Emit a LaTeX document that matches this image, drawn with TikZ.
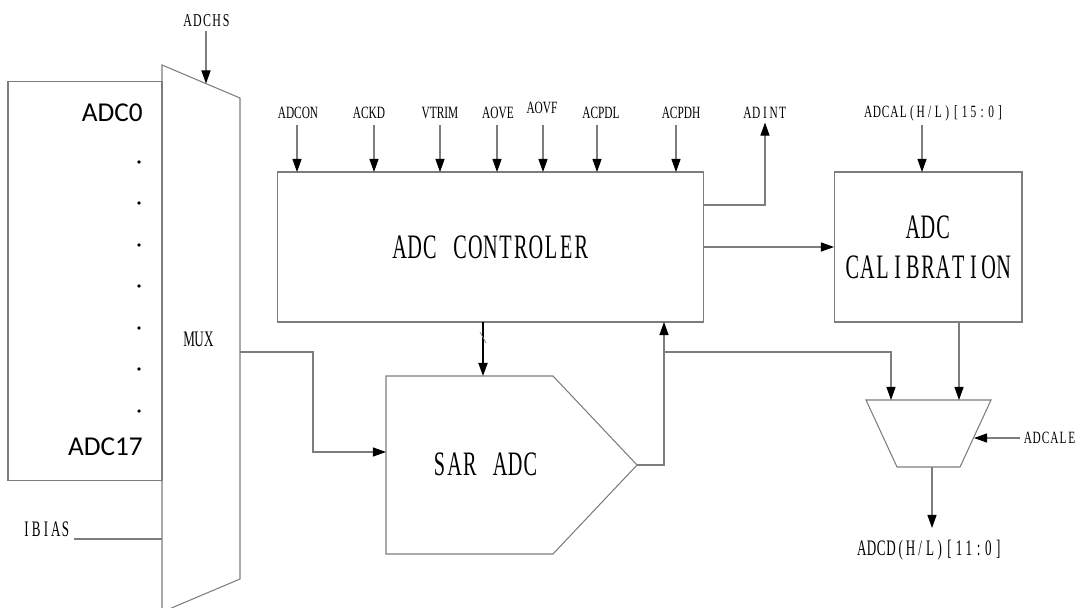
\documentclass[tikz,border=0pt]{standalone}
\usepackage{fontspec}
\setmainfont{Liberation Serif}
\newfontfamily\nserif[FakeStretch=0.66]{Liberation Serif}
\newfontfamily\wserif[FakeStretch=0.59]{Liberation Serif}
\newfontfamily\pinfont{Carlito}
\usetikzlibrary{arrows.meta}
\definecolor{linegray}{RGB}{125,125,125}
% fixed pitch lettering
\newlength\cellw
\makeatletter
\newcommand\cells[1]{\@tfor\ch:=#1\do{\makebox[\cellw]{\ch}}}
\makeatother
\tikzset{
  blk/.style={draw=linegray, line width=0.6pt},
  sig/.style={draw=linegray, line width=0.6pt, -{Triangle[length=7.5pt,width=5.2pt,color=black]}},
  lbl/.style={font=\nserif\fontsize{9.8}{11}\selectfont\setlength\cellw{5pt}, inner sep=2pt},
  midlbl/.style={font=\wserif\fontsize{12.6}{14}\selectfont\setlength\cellw{5.55pt}, inner sep=2pt},
  biglbl/.style={font=\wserif\fontsize{19.5}{22.7}\selectfont\setlength\cellw{8.62pt}, align=center},
  pinlbl/.style={font=\pinfont\fontsize{15.5}{18}\selectfont, anchor=east, inner sep=0pt},
  box/.style={blk, inner sep=0pt, outer sep=0pt}
}
\begin{document}
\begin{tikzpicture}[x=0.02cm, y=-0.02cm]
  \useasboundingbox (0,0) rectangle (1081,608);
  % analog input channels
  \node[box, minimum width=3.08cm, minimum height=8cm] (pins) at (85,281) {};
  \node[pinlbl] (adc0) at (143,113) {ADC0};
  \node[pinlbl] (adc17) at (143,447) {ADC17};
  \foreach \y in {162,203,245,286,328,369,411}
    \fill (139,\y) circle[radius=1pt];
  % channel mux
  \draw[blk] (162,65) -- (240,98) -- (240,579) -- (162,612) -- cycle;
  \coordinate (muxsel) at (206,83.6);
  \coordinate (muxout) at (240,352);
  \coordinate (ibiasend) at (162,539);
  \node[midlbl] (mux) at (199,339) {\cells{MUX}};
  \node[lbl, font=\nserif\fontsize{10.3}{12}\selectfont\setlength\cellw{5.5pt}] (adchs) at (207,21) {\cells{ADCHS}};
  \draw[sig] (adchs.south -| muxsel) -- (muxsel);
  \node[midlbl] (ibias) at (46,529) {\cells{IBIAS}};
  \coordinate (ibiasa) at (74,539);
  \draw[blk] (ibiasa) -- (ibiasend);
  % controller
  \node[box, minimum width=8.54cm, minimum height=3cm, biglbl] (ctrl) at (490.5,247) {\cells{ADC~CONTROLER}};
  \foreach \nm/\lx/\ax/\y/\txt in {adcon/298/297/113/ADCON, ackd/369/374/113/ACKD, vtrim/440/440/113/VTRIM,
      aove/498/497/113/AOVE, aovf/542/543/108/AOVF, acpdl/601/597/113/ACPDL, acpdh/681/676/113/ACPDH}{
    \node[lbl] (\nm) at (\lx,\y) {\cells{\txt}};
    \coordinate (\nm-in) at (\ax,172);
    \draw[sig] (\nm-in |- 0,125) -- (\nm-in);
  }
  \node[lbl] (adint) at (765,113) {\cells{ADINT}};
  \draw[sig] (ctrl.east |- 0,205) -| (adint.south);
  % calibration
  \node[box, minimum width=3.76cm, minimum height=3cm, biglbl] (cal) at (928,247) {\cells{ADC}\\\cells{CALIBRATION}};
  \draw[sig] (ctrl.east) -- (cal.west);
  \node[lbl] (adcal) at (934,113) {\cells{ADCAL(H/L)[15:0]}};
  \coordinate (calin) at (922,172);
  \draw[sig] (adcal.south -| calin) -- (calin);
  % SAR core
  \draw[blk] (386,376) -- (553,376) -- (637,465) -- (553,554) -- (386,554) -- cycle;
  \node[biglbl] (sar) at (485,464) {\cells{SAR~ADC}};
  \coordinate (sarin) at (386,452);
  \coordinate (sartop) at (483,376);
  \coordinate (sarout) at (637,465);
  \coordinate (fb) at (664,465);
  \coordinate (fbtap) at (664,352);
  \draw[sig] (muxout) -- ++(73,0) |- (sarin);
  \draw[line width=1pt, -{Triangle[length=7.5pt,width=5.2pt]}] (ctrl.south -| sartop) -- (sartop);
  \draw[linegray, line width=0.4pt] (480,332) -- (486,343);
  \draw[sig] (sarout) -- (fb) -- (fb |- ctrl.south);
  % output select
  \draw[blk] (866,400) -- (991,400) -- (960,467) -- (897,467) -- cycle;
  \coordinate (sela) at (891,400);
  \coordinate (selb) at (959,400);
  \coordinate (selc) at (974,438);
  \coordinate (selo) at (932,467);
  \draw[sig] (fbtap) -| (sela);
  \draw[sig] (cal.south -| selb) -- (selb);
  \node[lbl] (adcale) at (1050,438) {\cells{ADCALE}};
  \draw[sig] (adcale.west) -- (selc);
  \draw[sig] (selo) -- ++(0,61);
  \node[midlbl] (adcd) at (930,550) {\cells{ADCD(H/L)[11:0]}};
\end{tikzpicture}
\end{document}
